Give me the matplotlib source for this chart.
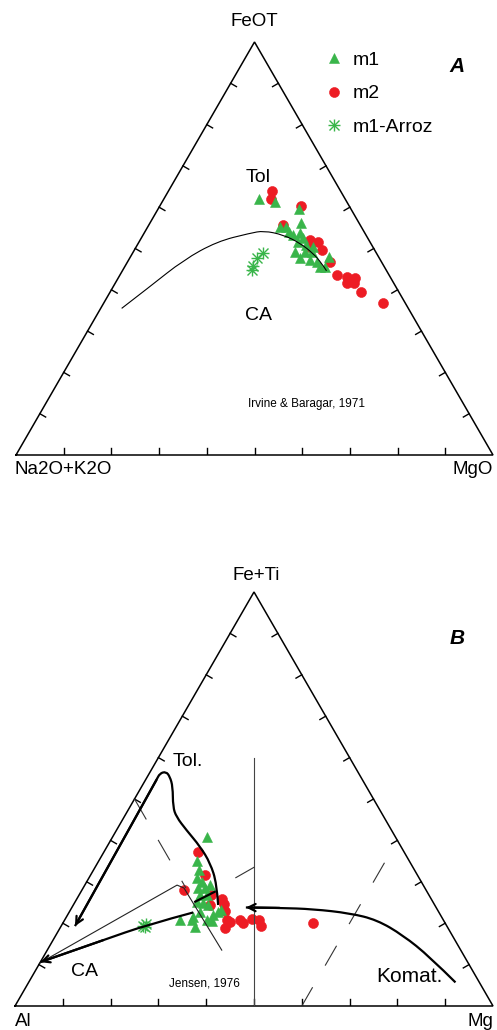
import numpy as np
import matplotlib
matplotlib.use("Agg")
import matplotlib.pyplot as plt
from matplotlib.path import Path
from matplotlib.patches import PathPatch
from matplotlib.legend_handler import HandlerTuple

plt.rcParams["font.family"] = ["Liberation Sans", "DejaVu Sans"]
plt.rcParams["lines.scale_dashes"] = False

W, H = 497, 1030
GREEN = "#39b54a"
RED = "#ed1c24"
SQ3 = np.sqrt(3) / 2

# ---- A: AFM, values in % (FeOT, MgO); Na2O+K2O is the rest
a_m1_fe = [61.9, 61.3, 59.5, 56.1, 55.3, 55.3, 54.1, 53.3, 53.7, 52.5, 51.6,
           50.8, 49.2, 47.6, 47.2, 46.8, 45.4, 47.9, 45.6, 50.4, 49.2, 49.2]
a_m1_mg = [20.0, 23.7, 29.5, 31.6, 27.7, 29.0, 30.1, 31.5, 32.7, 34.0, 33.4,
           35.5, 37.4, 35.7, 38.0, 39.8, 41.0, 41.7, 42.0, 37.1, 33.9, 36.0]
a_m2_fe = [63.9, 61.9, 60.4, 55.7, 52.1, 51.6, 49.6, 46.7, 43.6, 43.1, 42.9,
           41.6, 41.6, 39.5, 36.8, 50.4]
a_m2_mg = [21.8, 22.6, 29.5, 28.2, 35.6, 37.5, 39.4, 42.4, 45.5, 47.9, 49.7,
           48.6, 50.1, 52.6, 58.5, 36.4]
a_arroz_fe = [48.9, 47.7, 45.8, 44.8]
a_arroz_mg = [27.3, 26.6, 26.8, 27.1]

# Irvine & Baragar (1971) tholeiitic / calc-alkaline divide
ib_fe = [35.5, 40.8, 47.2, 51.7, 53.7, 54.3, 53.3, 51.3, 48.8, 46.4, 44.6]
ib_mg = [4.4, 7.7, 11.5, 16.3, 22.2, 24.8, 29.4, 33.9, 37.9, 40.9, 42.8]

# ---- B: Jensen cation plot, values in % (Fe+Ti, Mg); Al is the rest
b_m1_fe = [40.9, 35.0, 30.8, 30.0, 28.4, 28.4, 26.8, 26.8, 25.2, 24.8, 22.8, 23.2,
           20.7, 21.6, 22.8, 20.7, 20.8, 19.2, 22.0, 29.2, 24.4, 32.9, 20.5]
b_m1_mg = [19.7, 20.5, 22.6, 24.1, 24.1, 25.5, 25.3, 26.7, 25.4, 27.0, 31.1, 31.6,
           24.2, 26.5, 27.3, 26.7, 29.7, 28.1, 30.5, 26.2, 28.2, 22.1, 31.0]
b_m2_fe = [37.1, 31.6, 27.9, 26.8, 25.8, 24.6, 22.9, 20.8, 18.8, 20.4, 20.8, 20.0,
           20.9, 20.7, 19.3, 20.0, 24.4]
b_m2_mg = [19.8, 23.9, 21.5, 27.7, 30.4, 31.5, 32.4, 33.9, 34.5, 34.8, 36.7, 37.8,
           39.2, 40.6, 41.9, 52.3, 28.6]
b_arroz_fe = [19.3, 19.9, 19.1]
b_arroz_mg = [17.1, 17.4, 17.6]

# Jensen (1976) guide lines and trend arrows
tol_fe = [24.4, 29.6, 34.5, 38.5, 42.5, 45.7, 48.1, 53.0, 55.4, 56.6, 56.2, 54.6, 19.3]
tol_mg = [30.3, 27.4, 23.6, 19.5, 14.6, 10.9, 9.0, 6.5, 4.7, 3.3, 2.2, 2.3, 2.9]
ca_fe = [22.6, 19.6, 15.9, 10.6]
ca_mg = [26.0, 17.8, 10.5, 0.0]
kom_fe = [5.7, 11.9, 17.1, 20.8, 22.4, 23.4, 23.7, 23.8]
kom_mg = [89.3, 80.8, 72.6, 65.3, 58.9, 50.7, 43.5, 36.4]
seg_fe = [27.6, 25.2]
seg_mg = [28.0, 25.1]
thin_fe = [10.4, 29.2, 28.5, 13.5]
thin_mg = [0.0, 19.3, 21.1, 36.5]
al50_fe = [50.0, 28.5]
al50_mg = [0.0, 21.5]
mid_fe = [60.0, 0.0]
mid_mg = [20.0, 50.0]
dash_fe = [31.0, 33.5]
dash_mg = [30.7, 33.25]
mg60_fe = [34.6, 0.0]
mg60_mg = [60.0, 60.0]


def tern(fe, mg):
    fe = np.asarray(fe) / 100.0
    mg = np.asarray(mg) / 100.0
    return mg + fe / 2, fe * SQ3


def frame(ax):
    ax.plot([0, 1, 0.5, 0], [0, 0, SQ3, 0], color="black", lw=1.1,
            solid_joinstyle="miter", clip_on=False, zorder=5)
    L = 0.014
    for k in range(1, 10):
        t = k / 10
        for (x, y), (dx, dy) in [((t, 0), (0, 1)),
                                 ((t / 2, t * SQ3), (0.866, -0.5)),
                                 ((1 - t / 2, t * SQ3), (-0.866, -0.5))]:
            ax.plot([x, x + L * dx], [y, y + L * dy], color="black", lw=1.0, zorder=5)
    ax.set_xlim(0, 1)
    ax.set_ylim(0, SQ3)
    ax.axis("off")


def smooth(ax, fe, mg, lw, color="black"):
    # quadratic bezier through midpoints, the read points act as controls
    x, y = tern(fe, mg)
    pts = list(zip(x, y))
    verts = [pts[0]]
    codes = [Path.MOVETO]
    for i in range(1, len(pts) - 1):
        end = pts[i + 1] if i == len(pts) - 2 else \
            ((pts[i][0] + pts[i + 1][0]) / 2, (pts[i][1] + pts[i + 1][1]) / 2)
        verts += [pts[i], end]
        codes += [Path.CURVE3, Path.CURVE3]
    ax.add_patch(PathPatch(Path(verts, codes), fill=False, lw=lw,
                           edgecolor=color, zorder=6, capstyle="butt"))
    return x, y


def arrow(ax, fe, mg, lw, curved=False):
    if curved:
        x, y = smooth(ax, fe, mg, lw)
    else:
        x, y = tern(fe, mg)
        ax.plot(x, y, color="black", lw=lw, zorder=6, solid_capstyle="butt")
    ax.annotate("", xy=(x[-1], y[-1]), xytext=(x[-2], y[-2]),
                arrowprops=dict(arrowstyle="->", lw=lw, color="black",
                                shrinkA=0, shrinkB=0, mutation_scale=13),
                zorder=7)


def points(ax, fe, mg, kind):
    x, y = tern(fe, mg)
    if kind == "m1":
        return ax.plot(x, y, "^", color=GREEN, ms=7.8, mec=GREEN, mew=0.4,
                       ls="none", zorder=3, label="m1")[0]
    if kind == "m2":
        return ax.plot(x, y, "o", color=RED, ms=7.2, mec=RED, mew=0.4,
                       ls="none", zorder=2, label="m2")[0]
    h1 = ax.plot(x, y, "+", color=GREEN, ms=9, mew=1.0, ls="none", zorder=4)[0]
    h2 = ax.plot(x, y, "x", color=GREEN, ms=6.5, mew=1.0, ls="none", zorder=4)[0]
    return (h1, h2)


fig = plt.figure(figsize=(W / 100, H / 100), dpi=100)


def ftext(px, py, s, **kw):
    kw.setdefault("ha", "center")
    kw.setdefault("va", "center")
    fig.text(px / W, 1 - py / H, s, **kw)


# ---------- A ----------
axA = fig.add_axes([16 / W, 1 - 455 / H, 477 / W, 413 / H])
frame(axA)
hm2 = points(axA, a_m2_fe, a_m2_mg, "m2")
hm1 = points(axA, a_m1_fe, a_m1_mg, "m1")
har = points(axA, a_arroz_fe, a_arroz_mg, "arroz")
smooth(axA, ib_fe, ib_mg, 0.8)

axA.legend([hm1, hm2, har], ["m1", "m2", "m1-Arroz"],
           handler_map={tuple: HandlerTuple(ndivide=1)},
           loc="upper left", bbox_to_anchor=(324 / W, 1 - 51 / H),
           bbox_transform=fig.transFigure, frameon=False, fontsize=14,
           numpoints=1, handlelength=1.0, handletextpad=0.5,
           labelspacing=0.83, borderpad=0, borderaxespad=0)

ftext(254, 22, "FeOT", fontsize=13.5)
ftext(15, 470, "Na2O+K2O", fontsize=13.5, ha="left")
ftext(493, 470, "MgO", fontsize=13.5, ha="right")
ftext(457, 66, "A", fontsize=15, fontweight="bold", fontstyle="italic")
ftext(258, 177, "Tol", fontsize=14)
ftext(259, 315, "CA", fontsize=14)
ftext(306, 404, "Irvine & Baragar, 1971", fontsize=8.5)

# ---------- B ----------
axB = fig.add_axes([15 / W, 1 - 1006 / H, 478 / W, 414 / H])
frame(axB)
points(axB, b_m2_fe, b_m2_mg, "m2")
points(axB, b_m1_fe, b_m1_mg, "m1")
points(axB, b_arroz_fe, b_arroz_mg, "arroz")

x, y = tern(mid_fe, mid_mg)
axB.plot(x, y, color="#444444", lw=0.8, zorder=6)
x, y = tern(thin_fe, thin_mg)
axB.plot(x, y, color="#222222", lw=0.8, zorder=6)
x, y = tern(al50_fe, al50_mg)
axB.plot(x, y, color="#333333", lw=0.8, ls=(0, (17, 17)), zorder=6)
x, y = tern(mg60_fe, mg60_mg)
axB.plot(x, y, color="#333333", lw=0.8, ls=(0, (16.5, 18)), zorder=6)
x, y = tern(dash_fe, dash_mg)
axB.plot(x, y, color="#333333", lw=0.8, zorder=6)
x, y = tern(seg_fe, seg_mg)
axB.plot(x, y, color="black", lw=1.6, zorder=6)

arrow(axB, tol_fe, tol_mg, 1.6, curved=True)
arrow(axB, ca_fe, ca_mg, 1.6, curved=True)
arrow(axB, kom_fe, kom_mg, 1.6, curved=True)

ftext(256, 575, "Fe+Ti", fontsize=13.5)
ftext(457, 639, "B", fontsize=15, fontweight="bold", fontstyle="italic")
ftext(188, 761, "Tol.", fontsize=14)
ftext(84, 972, "CA", fontsize=14)
ftext(409, 977, "Komat.", fontsize=15)
ftext(204.5, 984, "Jensen, 1976", fontsize=8.5)
ftext(15, 1021, "Al", fontsize=13.5, ha="left")
ftext(493, 1021, "Mg", fontsize=13.5, ha="right")

fig.savefig("out.png", dpi=100)
plt.close(fig)
